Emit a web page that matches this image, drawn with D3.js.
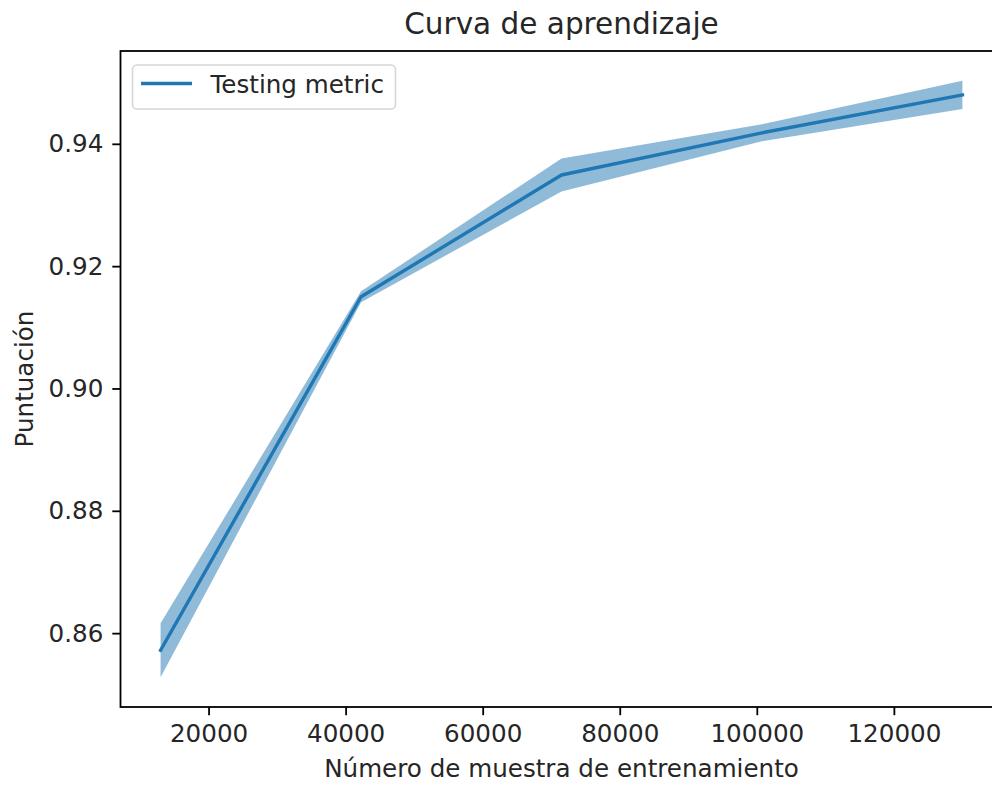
<!DOCTYPE html>
<html>
<head>
<meta charset="utf-8">
<script src="https://cdn.jsdelivr.net/npm/d3@7"></script>
<style>
  html, body { margin: 0; padding: 0; background: #ffffff; }
  svg { display: block; overflow: hidden; }
  text { font-family: "DejaVu Sans", sans-serif; fill: #262626; }
</style>
</head>
<body>
<svg id="chart" width="992" height="786"></svg>
<script>
// Learning curve: training-set sizes with mean test score and its standard deviation
const trainSizes = [13000, 42250, 71500, 100750, 130000];
const testMean   = [0.8572, 0.9150, 0.9349, 0.9418, 0.9480];
const testStd    = [0.0044, 0.0009, 0.0027, 0.0014, 0.0023];
const xTicks = [20000, 40000, 60000, 80000, 100000, 120000];
const yTicks = [0.86, 0.88, 0.90, 0.92, 0.94];

const titleText  = "Curva de aprendizaje";
const xLabelText = "Número de muestra de entrenamiento";
const yLabelText = "Puntuación";
const legendText = "Testing metric";

const color = "#1f77b4";
const labelSize = 24.6, titleSize = 29.5;
const svg = d3.select("#chart");

// axes box
const plotLeft = 120.5, plotTop = 51, plotW = 882, plotH = 656;

const rows = trainSizes.map((s, i) => ({
  x: s, m: testMean[i], lo: testMean[i] - testStd[i], hi: testMean[i] + testStd[i]
}));

// 5% padding around the data, as the default autoscale does
function padded(lo, hi) { const r = hi - lo; return [lo - 0.05 * r, hi + 0.05 * r]; }
const xDom = padded(d3.min(trainSizes), d3.max(trainSizes));
const yDom = padded(d3.min(rows, d => d.lo), d3.max(rows, d => d.hi));

const x = d3.scaleLinear().domain(xDom).range([0, plotW]);
const y = d3.scaleLinear().domain(yDom).range([plotH, 0]);

const g = svg.append("g").attr("transform", `translate(${plotLeft},${plotTop})`);

// standard-deviation band
g.append("path")
  .datum(rows)
  .attr("fill", color)
  .attr("fill-opacity", 0.5)
  .attr("d", d3.area().x(d => x(d.x)).y0(d => y(d.lo)).y1(d => y(d.hi)));

// mean curve
g.append("path")
  .datum(rows)
  .attr("fill", "none")
  .attr("stroke", color)
  .attr("stroke-width", 3.4)
  .attr("stroke-linejoin", "round")
  .attr("stroke-linecap", "square")
  .attr("d", d3.line().x(d => x(d.x)).y(d => y(d.m)));

// axes
const tickLen = 8.2, tickPad = 8;
const xAxis = g.append("g")
  .attr("transform", `translate(0,${plotH})`)
  .call(d3.axisBottom(x).tickValues(xTicks).tickFormat(d3.format("d"))
    .tickSizeInner(tickLen).tickSizeOuter(0).tickPadding(tickPad));
const yAxis = g.append("g")
  .call(d3.axisLeft(y).tickValues(yTicks).tickFormat(d3.format(".2f"))
    .tickSizeInner(tickLen).tickSizeOuter(0).tickPadding(tickPad + 1));

[xAxis, yAxis].forEach(a => {
  a.select(".domain").remove();
  a.selectAll(".tick line").attr("stroke", "#000").attr("stroke-width", 1.8);
  a.selectAll(".tick text")
    .attr("font-family", "DejaVu Sans, sans-serif")
    .attr("font-size", labelSize)
    .attr("fill", "#262626");
});
xAxis.selectAll(".tick text").attr("dy", "0.78em");

// spines
g.append("rect")
  .attr("x", 0).attr("y", 0).attr("width", plotW).attr("height", plotH)
  .attr("fill", "none").attr("stroke", "#000").attr("stroke-width", 1.8);

// title and axis labels
svg.append("text")
  .attr("x", plotLeft + plotW / 2).attr("y", 34)
  .attr("text-anchor", "middle").attr("font-size", titleSize)
  .text(titleText);

svg.append("text")
  .attr("x", plotLeft + plotW / 2).attr("y", 777)
  .attr("text-anchor", "middle").attr("font-size", labelSize)
  .text(xLabelText);

svg.append("text")
  .attr("transform", `translate(33,${plotTop + plotH / 2}) rotate(-90)`)
  .attr("text-anchor", "middle").attr("font-size", labelSize)
  .text(yLabelText);

// legend
const leg = g.append("g").attr("transform", "translate(12,14)");
leg.append("rect")
  .attr("x", 0).attr("y", 0).attr("width", 263).attr("height", 44)
  .attr("rx", 4.5).attr("ry", 4.5)
  .attr("fill", "#fff").attr("fill-opacity", 0.8)
  .attr("stroke", "#d6d6d6").attr("stroke-width", 1.6);
leg.append("line")
  .attr("x1", 8.5).attr("x2", 59.5).attr("y1", 18.5).attr("y2", 18.5)
  .attr("stroke", color).attr("stroke-width", 3.4);
leg.append("text")
  .attr("x", 78).attr("y", 28).attr("font-size", labelSize)
  .text(legendText);
</script>
</body>
</html>
